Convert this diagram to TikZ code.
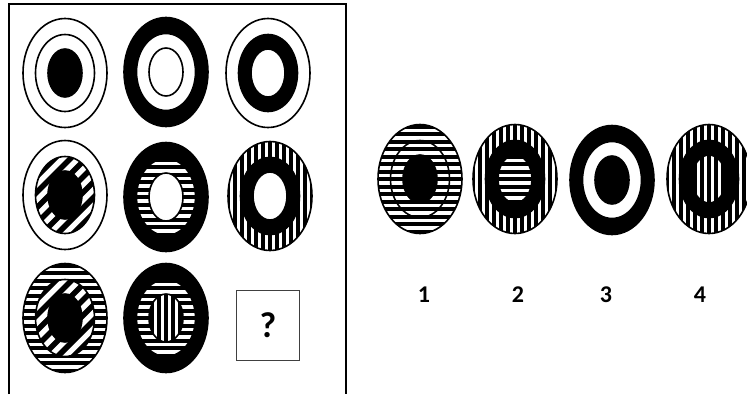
\documentclass[tikz,border=0pt]{standalone}
\usepackage{fontspec}
\newfontfamily\calibri{Carlito}
\usetikzlibrary{shapes.geometric}
\tikzstyle{ring} = [ellipse, draw=black, line width=1.6pt, inner sep=0pt, fill=white]
\tikzstyle{outerring} = [ring, minimum width=84pt, minimum height=109pt]
\tikzstyle{midring} = [ring, minimum width=59pt, minimum height=77pt]
\tikzstyle{innerring} = [ring, minimum width=34pt, minimum height=48pt]
\tikzstyle{blk} = [fill=black]
\tikzstyle{hstripes} = [path picture={
  \begin{scope}[shift={(path picture bounding box.center)}]
  \foreach \k in {-8,...,8} \fill[black] (-50pt,{\k*7.5pt-2pt}) rectangle ++(100pt,4pt);
  \end{scope}}]
\tikzstyle{vstripes} = [path picture={
  \begin{scope}[shift={(path picture bounding box.center)}]
  \foreach \k in {-7,...,7} \fill[black] ({\k*7pt-1.75pt},-60pt) rectangle ++(3.5pt,120pt);
  \end{scope}}]
% diagonal stripes, written out along the 45 degree direction
\tikzstyle{dstripes} = [path picture={
  \begin{scope}[shift={(path picture bounding box.center)}]
  \foreach \k in {-6,...,6} \draw[black, line width=5.5pt]
    ({(-\k*11-60)*0.7071pt},{(\k*11-60)*0.7071pt}) -- ({(-\k*11+60)*0.7071pt},{(\k*11+60)*0.7071pt});
  \end{scope}}]
\tikzstyle{qbox} = [rectangle, draw=black!75, line width=0.8pt, minimum width=63pt, minimum height=70pt, font=\calibri\bfseries\fontsize{36}{40}\selectfont]
\tikzstyle{numlabel} = [font=\calibri\bfseries\fontsize{24}{28}\selectfont]

\begin{document}
\begin{tikzpicture}[x=1pt, y=-1pt]
\useasboundingbox (0,0) rectangle (747,394);
% puzzle frame, open at the bottom
\draw[line width=1.5pt] (9,394) -- (9,4) -- (346,4) -- (346,394);
% Row 1
\node[outerring] (p11a) at (65,73) {};
\node[midring] (p11b) at (65,73) {};
\node[innerring, blk] (p11c) at (65,73) {};
\node[outerring, blk] (p12a) at (166,72) {};
\node[midring] (p12b) at (166,72) {};
\node[innerring] (p12c) at (166,72) {};
\node[outerring] (p13a) at (268,73) {};
\node[midring, blk] (p13b) at (268,73) {};
\node[innerring] (p13c) at (268,73) {};
% Row 2
\node[outerring] (p21a) at (65,195) {};
\node[midring, dstripes] (p21b) at (65,195) {};
\node[innerring, blk] (p21c) at (65,195) {};
\node[outerring, blk] (p22a) at (166,197) {};
\node[midring, hstripes] (p22b) at (166,197) {};
\node[innerring] (p22c) at (166,197) {};
\node[outerring, vstripes] (p23a) at (270,196) {};
\node[midring, blk] (p23b) at (270,196) {};
\node[innerring] (p23c) at (270,196) {};
% Row 3
\node[outerring, hstripes] (p31a) at (65,318) {};
\node[midring, dstripes] (p31b) at (65,318) {};
\node[innerring, blk] (p31c) at (65,318) {};
\node[outerring, blk] (p32a) at (166,318) {};
\node[midring, hstripes] (p32b) at (166,318) {};
\node[innerring, vstripes] (p32c) at (166,318) {};
\node[qbox] (q) at (268,325) {?};
% Answer options
\node[outerring, hstripes] (o1a) at (420,179) {};
\node[midring, hstripes] (o1b) at (420,179) {};
\node[innerring, blk] (o1c) at (420,179) {};
\node[outerring, vstripes] (o2a) at (515,179) {};
\node[midring, blk] (o2b) at (515,179) {};
\node[innerring, hstripes] (o2c) at (515,179) {};
\node[outerring, blk] (o3a) at (612,180) {};
\node[midring] (o3b) at (612,180) {};
\node[innerring, blk] (o3c) at (612,180) {};
\node[outerring, vstripes] (o4a) at (709,179) {};
\node[midring, blk] (o4b) at (709,179) {};
\node[innerring, vstripes] (o4c) at (709,179) {};
% Option numbers
\node[numlabel] (n1) at (424,295) {1};
\node[numlabel] (n2) at (518,295) {2};
\node[numlabel] (n3) at (606,295) {3};
\node[numlabel] (n4) at (700,295) {4};
\end{tikzpicture}
\end{document}
